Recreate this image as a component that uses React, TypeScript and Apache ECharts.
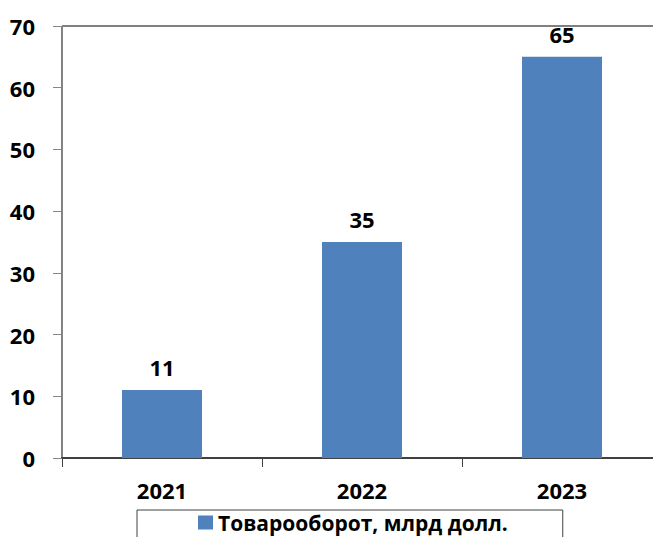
import React, { useEffect, useRef } from "react";
import * as echarts from "echarts";

const categories = ["2021", "2022", "2023"];
const values = [11, 35, 65];
const seriesName = "Товарооборот, млрд долл.";
const yMin = 0;
const yMax = 70;
const yInterval = 10;

const FONT = "'Open Sans', 'DejaVu Sans', sans-serif";

export default function App() {
  const ref = useRef<HTMLDivElement>(null);
  useEffect(() => {
    if (!ref.current) return;
    const chart = echarts.init(ref.current, null, { renderer: "svg" });
    chart.setOption({
      animation: false,
      backgroundColor: "#ffffff",
      textStyle: { fontFamily: FONT },
      grid: {
        left: 62,
        top: 26,
        width: 600,
        height: 432,
        show: true,
        borderColor: "#000000",
        borderWidth: 1,
        backgroundColor: "transparent",
        containLabel: false,
        outerBoundsMode: "none",
      },
      legend: {
        show: true,
        data: [seriesName],
        left: 137,
        top: 510,
        orient: "horizontal",
        icon: "rect",
        itemWidth: 15,
        itemHeight: 14,
        itemGap: 6,
        borderColor: "#404040",
        borderWidth: 1,
        padding: [2, 55, 20, 61],
        textStyle: {
          fontFamily: FONT,
          fontWeight: "bold",
          fontSize: 21,
          color: "#000000",
        },
      },
      xAxis: {
        type: "category",
        data: categories,
        boundaryGap: true,
        axisLine: { show: true, lineStyle: { color: "#404040", width: 2 } },
        axisTick: {
          show: true,
          alignWithLabel: false,
          length: 9,
          lineStyle: { color: "#404040", width: 1 },
        },
        axisLabel: {
          margin: 21,
          fontFamily: FONT,
          fontWeight: "bold",
          fontSize: 22,
          color: "#000000",
        },
        splitLine: { show: false },
      },
      yAxis: {
        type: "value",
        min: yMin,
        max: yMax,
        interval: yInterval,
        axisLine: { show: true, lineStyle: { color: "#868686", width: 1 } },
        axisTick: {
          show: true,
          length: 9,
          lineStyle: { color: "#868686", width: 1 },
        },
        axisLabel: {
          margin: 27,
          fontFamily: FONT,
          fontWeight: "bold",
          fontSize: 22,
          color: "#000000",
        },
        splitLine: { show: false },
      },
      series: [
        {
          name: seriesName,
          type: "bar",
          data: values,
          barWidth: "40%",
          itemStyle: { color: "#4F81BD" },
          label: {
            show: true,
            position: "top",
            distance: 12,
            fontFamily: FONT,
            fontWeight: "bold",
            fontSize: 22,
            color: "#000000",
          },
        },
      ],
    });
    return () => chart.dispose();
  }, []);
  return (
    <div
      ref={ref}
      style={{ position: "absolute", left: 0, top: 0, width: 653, height: 537 }}
    />
  );
}
